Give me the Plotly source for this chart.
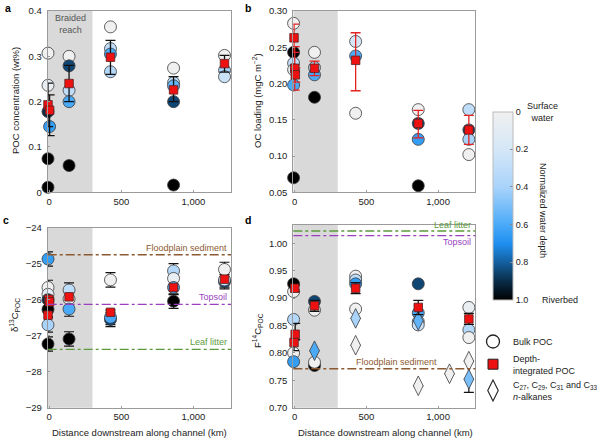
import plotly.graph_objects as go

# ---------------- data ----------------
X_RANGE_KM = [-10, 1260]
BRAIDED_REACH_KM = [-10, 300]
X_TICKS = [0, 500, 1000]
X_TICKTEXT = ["0", "500", "1,000"]

# Panel a: POC concentration (wt%)
a_bulk_km = [-8, -8, -8, 3, -8, -8, 138, 138, 138, 138, 138, 425, 425, 425, 425,
             862, 862, 862, 862, 862, 1215, 1215, 1215]
a_bulk_poc = [0.307, 0.236, 0.178, 0.145, 0.074, 0.011, 0.300, 0.279, 0.225, 0.200, 0.059,
              0.365, 0.317, 0.305, 0.266, 0.274, 0.242, 0.235, 0.200, 0.016, 0.302, 0.269, 0.255]
a_bulk_depth = [0.0, 0.05, 0.9, 0.65, 1.0, 1.0, 0.0, 0.85, 0.3, 0.6, 1.0,
                0.0, 0.3, 0.6, 0.35, 0.0, 0.3, 0.55, 0.85, 1.0, 0.0, 0.4, 0.25]
a_int_km = [-8, 3, 138, 425, 862, 1215]
a_int_poc = [0.193, 0.181, 0.240, 0.298, 0.226, 0.284]
a_int_err_plus = [0.048, 0.034, 0.040, 0.037, 0.029, 0.018]
a_int_err_minus = [0.048, 0.056, 0.040, 0.038, 0.026, 0.019]

# Panel b: OC loading (mgC m-2)
b_bulk_km = [-8, -8, -8, -8, -8, -8, 138, 138, 138, 138, 425, 425, 425,
             862, 862, 862, 862, 1215, 1215, 1215, 1215]
b_bulk_load = [0.283, 0.243, 0.228, 0.219, 0.198, 0.070, 0.243, 0.222, 0.212, 0.181,
               0.258, 0.238, 0.159, 0.164, 0.145, 0.123, 0.059, 0.164, 0.136, 0.123, 0.102]
b_bulk_depth = [0.0, 1.0, 0.3, 0.05, 0.6, 1.0, 0.0, 0.3, 0.6, 1.0,
                0.2, 0.6, 0.0, 0.0, 0.85, 0.65, 1.0, 0.3, 0.85, 0.4, 0.0]
b_int_km = [-5, 0, 4, 138, 425, 862, 1215]
b_int_load = [0.263, 0.221, 0.212, 0.221, 0.232, 0.145, 0.136]
b_int_err_plus = [0.019, 0.030, 0.010, 0.010, 0.038, 0.018, 0.020]
b_int_err_minus = [0.020, 0.030, 0.010, 0.010, 0.042, 0.020, 0.020]

# Panel c: d13C POC
c_bulk_km = [-8, -8, -8, -8, -8, -8, -8, 138, 138, 138, 138, 425, 425, 425,
             862, 862, 862, 862, 1215, 1215, 1215]
c_bulk_d13c = [-24.87, -25.66, -25.85, -26.0, -26.27, -26.7, -27.23, -25.73, -25.98, -26.26, -27.09,
               -25.45, -26.55, -26.49, -25.2, -25.41, -25.66, -26.04, -25.5, -25.45, -25.16]
c_bulk_depth = [0.65, 0.0, 0.1, 0.9, 1.0, 0.4, 1.0, 0.3, 0.05, 0.6, 1.0,
                0.0, 0.85, 0.6, 0.35, 0.05, 0.6, 1.0, 0.85, 0.25, 0.0]
c_bulk_err = [0.2, 0.2, 0.2, 0.2, 0.2, 0.2, 0.2, 0.2, 0.2, 0.2, 0.2,
              0.2, 0.2, 0.2, 0.2, 0.2, 0.2, 0.2, 0.2, 0.2, 0.2]
c_int_km = [-8, -3, 3, 138, 425, 862, 1215]
c_int_d13c = [-26.43, -25.99, -26.06, -25.92, -26.35, -25.66, -25.43]
c_ref_names = ["Floodplain sediment", "Topsoil", "Leaf litter"]
c_ref_values = [-24.75, -26.13, -27.38]

# Panel d: F14C POC
d_bulk_km = [-8, -8, -8, -8, -8, 138, 138, 138, 138, 425, 425, 425, 425,
             862, 862, 862, 862, 1215, 1215, 1215]
d_bulk_f14c = [0.912, 0.926, 0.861, 0.800, 0.784, 0.894, 0.878, 0.777, 0.783,
               0.940, 0.933, 0.926, 0.880, 0.926, 0.873, 0.857, 0.851, 0.883, 0.842, 0.828]
d_bulk_depth = [0.0, 1.0, 0.35, 0.0, 0.65, 0.85, 0.0, 1.0, 0.0,
                0.0, 0.3, 0.65, 0.0, 0.85, 0.6, 0.35, 0.25, 0.05, 0.35, 0.0]
d_int_km = [0, 3, -5, 138, 425, 862, 1215]
d_int_f14c = [0.918, 0.834, 0.819, 0.886, 0.918, 0.883, 0.862]
d_int_err_plus = [0.006, 0.020, 0.005, 0.010, 0.010, 0.013, 0.010]
d_int_err_minus = [0.006, 0.010, 0.015, 0.010, 0.010, 0.013, 0.010]
d_alk_km = [138, 425, 425, 862, 862, 1080, 1215, 1215]
d_alk_f14c = [0.804, 0.863, 0.814, 0.859, 0.740, 0.762, 0.785, 0.752]
d_alk_depth = [0.6, 0.4, 0.0, 0.55, 0.0, 0.0, 0.0, 0.5]
d_alk_err_minus = [0, 0, 0, 0, 0, 0, 0, 0.024]
d_ref_names = ["Leaf litter", "Topsoil", "Floodplain sediment"]
d_ref_values = [1.0225, 1.014, 0.771]

REF_COLORS = {"Floodplain sediment": "#8c5a32", "Topsoil": "#9b3fbf", "Leaf litter": "#5c9a3c"}

# depth colour scale (depth 0 = surface, 1 = riverbed)
DEPTH_STOPS = [0.0, 0.2, 0.4, 0.6, 0.7, 0.8, 0.9, 1.0]
DEPTH_COLORS = ["#f0f0f0", "#d5e7f7", "#a9d3fb", "#4aaaf8", "#1e8ff0", "#14609f", "#0a2c48", "#000000"]

FONT = "Liberation Sans, Arial, sans-serif"

# colourbar shows depth 0 at top -> use negative depth
colorscale = sorted([[1 - s, c] for s, c in zip(DEPTH_STOPS, DEPTH_COLORS)])

fig = go.Figure()

CIRCLE_LINE = dict(color="#3a3a3a", width=0.8)


def bulk(xs, ys, depth, xa, ya, err=None):
    t = go.Scatter(
        x=xs, y=ys, mode="markers", xaxis=xa, yaxis=ya, showlegend=False,
        cliponaxis=False,
        marker=dict(size=12, symbol="circle", color=[-d for d in depth],
                    coloraxis="coloraxis", line=CIRCLE_LINE),
    )
    if err is not None:
        t.error_y = dict(type="data", array=err, color="#111", thickness=1.2, width=5)
    return t


def integ(xs, ys, xa, ya, ep=None, em=None, ecolor="#111"):
    t = go.Scatter(
        x=xs, y=ys, mode="markers", xaxis=xa, yaxis=ya, showlegend=False,
        cliponaxis=False,
        marker=dict(size=8.5, symbol="square", color="#ee1111",
                    line=dict(color="#552222", width=0.8)),
    )
    if ep is not None:
        t.error_y = dict(type="data", symmetric=False, array=ep, arrayminus=em,
                         color=ecolor, thickness=1.3, width=5)
    return t


# panel a
fig.add_trace(bulk(a_bulk_km, a_bulk_poc, a_bulk_depth, "x", "y"))
fig.add_trace(integ(a_int_km, a_int_poc, "x", "y", a_int_err_plus, a_int_err_minus))
# panel b
fig.add_trace(bulk(b_bulk_km, b_bulk_load, b_bulk_depth, "x2", "y2"))
fig.add_trace(integ(b_int_km, b_int_load, "x2", "y2", b_int_err_plus, b_int_err_minus, "#e52222"))
# panel c
fig.add_trace(bulk(c_bulk_km, c_bulk_d13c, c_bulk_depth, "x3", "y3", c_bulk_err))
fig.add_trace(integ(c_int_km, c_int_d13c, "x3", "y3"))
# panel d
fig.add_trace(bulk(d_bulk_km, d_bulk_f14c, d_bulk_depth, "x4", "y4"))
fig.add_trace(go.Scatter(
    x=d_alk_km, y=d_alk_f14c, mode="markers", xaxis="x4", yaxis="y4", showlegend=False,
    cliponaxis=False,
    marker=dict(size=14, symbol="diamond-tall", color=[-d for d in d_alk_depth],
                coloraxis="coloraxis", line=CIRCLE_LINE),
    error_y=dict(type="data", symmetric=False, array=[0] * len(d_alk_km),
                 arrayminus=d_alk_err_minus, color="#111", thickness=1.2, width=5),
))
fig.add_trace(integ(d_int_km, d_int_f14c, "x4", "y4", d_int_err_plus, d_int_err_minus))

# legend-only traces
fig.add_trace(go.Scatter(x=[None], y=[None], mode="markers", name="Bulk POC",
                         marker=dict(size=13, symbol="circle", color="white",
                                     line=dict(color="#222", width=1.3))))
fig.add_trace(go.Scatter(x=[None], y=[None], mode="markers", name="Depth-<br>integrated POC",
                         marker=dict(size=10, symbol="square", color="#ee1111",
                                     line=dict(color="#222", width=1))))
fig.add_trace(go.Scatter(x=[None], y=[None], mode="markers",
                         name="C<sub>27</sub>, C<sub>29</sub>, C<sub>31</sub> and C<sub>33</sub><br><i>n</i>-alkanes",
                         marker=dict(size=15, symbol="diamond-tall", color="white",
                                     line=dict(color="#222", width=1.1))))

# ---------------- layout ----------------
AX_LINE = "#9a9a9a"
TICKFONT = dict(family=FONT, size=9.5, color="#222")


def xaxis(domain, anchor):
    return dict(domain=domain, anchor=anchor, range=X_RANGE_KM, tickvals=X_TICKS,
                ticktext=X_TICKTEXT, showline=True, linecolor=AX_LINE, linewidth=1,
                mirror=True, ticks="inside", ticklen=2, tickcolor=AX_LINE,
                showgrid=False, zeroline=False, tickfont=TICKFONT, automargin=False)


def yaxis(domain, anchor, rng, tv, tt):
    return dict(domain=domain, anchor=anchor, range=rng, tickvals=tv, ticktext=tt,
                showline=True, linecolor=AX_LINE, linewidth=1, mirror=True,
                ticks="inside", ticklen=2, tickcolor=AX_LINE, showgrid=False,
                zeroline=False, tickfont=TICKFONT, automargin=False,
                ticklabelstandoff=3)


XA = [47.7 / 600, 231 / 600]
XB = [293.3 / 600, 475.3 / 600]
YTOP = [1 - 192.3 / 441, 1 - 11 / 441]
YC = [1 - 407.7 / 441, 1 - 227.7 / 441]
YD = [1 - 407.7 / 441, 1 - 225 / 441]

shapes = []
for xr, yr in [("x", "y domain"), ("x2", "y2 domain"), ("x3", "y3 domain"), ("x4", "y4 domain")]:
    shapes.append(dict(type="rect", xref=xr, yref=yr, x0=BRAIDED_REACH_KM[0], x1=BRAIDED_REACH_KM[1],
                       y0=0, y1=1, fillcolor="#d9d9d9", line=dict(width=0), layer="below"))

annotations = []
for name, val in zip(c_ref_names, c_ref_values):
    shapes.append(dict(type="line", xref="x3 domain", yref="y3", x0=0, x1=1, y0=val, y1=val,
                       line=dict(color=REF_COLORS[name], width=1.4, dash="dashdot")))
    annotations.append(dict(xref="x3 domain", yref="y3", x=0.99, y=val, text=name,
                            xanchor="right", yanchor="bottom", yshift=0, showarrow=False,
                            font=dict(family=FONT, size=9, color=REF_COLORS[name])))
for name, val in zip(d_ref_names, d_ref_values):
    shapes.append(dict(type="line", xref="x4 domain", yref="y4", x0=0, x1=1, y0=val, y1=val,
                       line=dict(color=REF_COLORS[name], width=1.4, dash="dashdot")))
d_label_pos = {"Leaf litter": (0.985, "bottom", -1), "Topsoil": (0.985, "top", 1),
               "Floodplain sediment": (0.8, "bottom", 0)}
for name, val in zip(d_ref_names, d_ref_values):
    xp, ya, ys = d_label_pos[name]
    annotations.append(dict(xref="x4 domain", yref="y4", x=xp, y=val, text=name,
                            xanchor="right", yanchor=ya, yshift=ys, showarrow=False,
                            font=dict(family=FONT, size=9, color=REF_COLORS[name])))


def paper_ann(x, y, text, size=9.5, angle=0, color="#222", bold=False, xanchor="center", **kw):
    annotations.append(dict(xref="paper", yref="paper", x=x / 600, y=1 - y / 441,
                            text=f"<b>{text}</b>" if bold else text, showarrow=False,
                            textangle=angle, xanchor=xanchor, yanchor="middle",
                            font=dict(family=FONT, size=size, color=color), **kw))


paper_ann(8, 8, "a", 10.5, bold=True, color="#000")
paper_ann(248, 8, "b", 10.5, bold=True, color="#000")
paper_ann(6, 220, "c", 10.5, bold=True, color="#000")
paper_ann(248, 220, "d", 10.5, bold=True, color="#000")
paper_ann(70, 24, "Braided<br>reach", 9, color="#555")
paper_ann(15, 101, "POC concentration (wt%)", 9.5, angle=-90)
paper_ann(257, 101, "OC loading (mgC m<sup>−2</sup>)", 9.5, angle=-90)
paper_ann(14, 315, "δ<sup>13</sup>C<sub>POC</sub>", 9.5, angle=-90)
paper_ann(257, 331, "F<sup>14</sup>C<sub>POC</sub>", 9.5, angle=-90)
paper_ann(139.5, 432, "Distance downstream along channel (km)", 9.5)
paper_ann(385, 432, "Distance downstream along channel (km)", 9.5)
paper_ann(542, 112, "Surface<br>water", 9)
paper_ann(540, 300, "Riverbed", 9, xanchor="left")
paper_ann(543, 210, "Normalized water depth", 9, angle=90)

fig.update_layout(
    width=600, height=441, autosize=False,
    margin=dict(l=0, r=0, t=0, b=0, pad=0, autoexpand=False),
    paper_bgcolor="white", plot_bgcolor="white",
    font=dict(family=FONT, size=9.5, color="#222"),
    xaxis=xaxis(XA, "y"), yaxis=yaxis(YTOP, "x", [0, 0.4], [0, 0.1, 0.2, 0.3, 0.4],
                                      ["0", "0.1", "0.2", "0.3", "0.4"]),
    xaxis2=xaxis(XB, "y2"), yaxis2=yaxis(YTOP, "x2", [0.05, 0.30],
                                         [0.05, 0.10, 0.15, 0.20, 0.25, 0.30],
                                         ["0.05", "0.10", "0.15", "0.20", "0.25", "0.30"]),
    xaxis3=xaxis(XA, "y3"), yaxis3=yaxis(YC, "x3", [-29, -24], [-29, -28, -27, -26, -25, -24],
                                         ["−29", "−28", "−27", "−26", "−25", "−24"]),
    xaxis4=xaxis(XB, "y4"), yaxis4=yaxis(YD, "x4", [0.70, 1.0334],
                                         [0.70, 0.75, 0.80, 0.85, 0.90, 0.95, 1.00],
                                         ["0.70", "0.75", "0.80", "0.85", "0.90", "0.95", "1.00"]),
    coloraxis=dict(
        cmin=-1, cmax=0, colorscale=colorscale,
        colorbar=dict(
            x=493 / 600, xanchor="left", xpad=0, ypad=0,
            y=1 - 111.7 / 441, yanchor="top",
            len=188, lenmode="pixels", thickness=20,
            outlinecolor="#bbbbbb", outlinewidth=1,
            tickvals=[0, -0.2, -0.4, -0.6, -0.8, -1.0],
            ticktext=["0", "0.2", "0.4", "0.6", "0.8", "1.0"],
            ticks="inside", ticklen=3, tickcolor="#888",
            tickfont=dict(family=FONT, size=9, color="#222"),
        ),
    ),
    legend=dict(x=473 / 600, xanchor="left", y=1 - 327 / 441, yanchor="top",
                font=dict(family=FONT, size=9, color="#222"), bgcolor="rgba(0,0,0,0)",
                itemsizing="trace", tracegroupgap=0),
    shapes=shapes, annotations=annotations,
)

fig.write_html("out.html",
               config={"responsive": False, "displayModeBar": False, "staticPlot": True},
               post_script="document.body.style.margin='0';document.body.style.overflow='hidden';")
